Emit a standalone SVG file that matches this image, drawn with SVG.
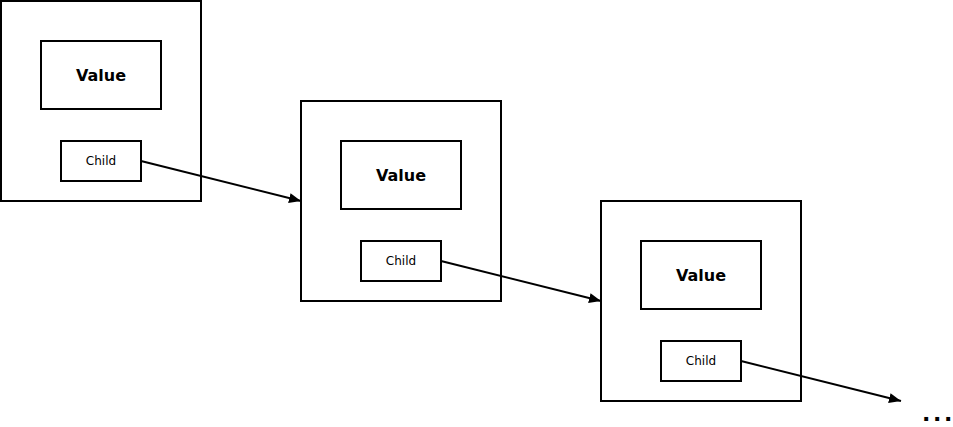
<svg xmlns="http://www.w3.org/2000/svg" width="953" height="427" viewBox="0 0 953 427">
<defs>
<style>
.box{fill:#fff;stroke:#000;stroke-width:2}
.val{font-family:"DejaVu Sans",sans-serif;font-weight:bold;font-size:16px;text-anchor:middle;fill:#000}
.ch{font-family:"DejaVu Sans",sans-serif;font-size:12px;text-anchor:middle;fill:#000}
.edge{stroke:#000;stroke-width:2;fill:none;marker-end:url(#arr)}
</style>
<marker id="arr" viewBox="0 0 12 10" refX="12" refY="5" markerWidth="12" markerHeight="10" markerUnits="userSpaceOnUse" orient="auto">
<path d="M0,0 L12,5 L0,10 Z" fill="#000"/>
</marker>
</defs>
<rect width="953" height="427" fill="#fff"/>
<g id="node1">
<rect class="box" x="1" y="1" width="200" height="200"/>
<rect class="box" x="41" y="41" width="120" height="68"/>
<text class="val" x="101" y="81">Value</text>
<rect class="box" x="61" y="141" width="80" height="40"/>
<text class="ch" x="101" y="165">Child</text>
</g>
<g id="node2">
<rect class="box" x="301" y="101" width="200" height="200"/>
<rect class="box" x="341" y="141" width="120" height="68"/>
<text class="val" x="401" y="181">Value</text>
<rect class="box" x="361" y="241" width="80" height="40"/>
<text class="ch" x="401" y="265">Child</text>
</g>
<g id="node3">
<rect class="box" x="601" y="201" width="200" height="200"/>
<rect class="box" x="641" y="241" width="120" height="68"/>
<text class="val" x="701" y="281">Value</text>
<rect class="box" x="661" y="341" width="80" height="40"/>
<text class="ch" x="701" y="365">Child</text>
</g>
<g id="connectors">
<line class="edge" x1="141" y1="161" x2="301" y2="201"/>
<line class="edge" x1="441" y1="261" x2="601" y2="301"/>
<line class="edge" x1="741" y1="361" x2="901" y2="401"/>
</g>
<text x="922 933 944" y="421" font-family="DejaVu Sans, sans-serif" font-weight="bold" font-size="22" fill="#000">...</text>
</svg>
